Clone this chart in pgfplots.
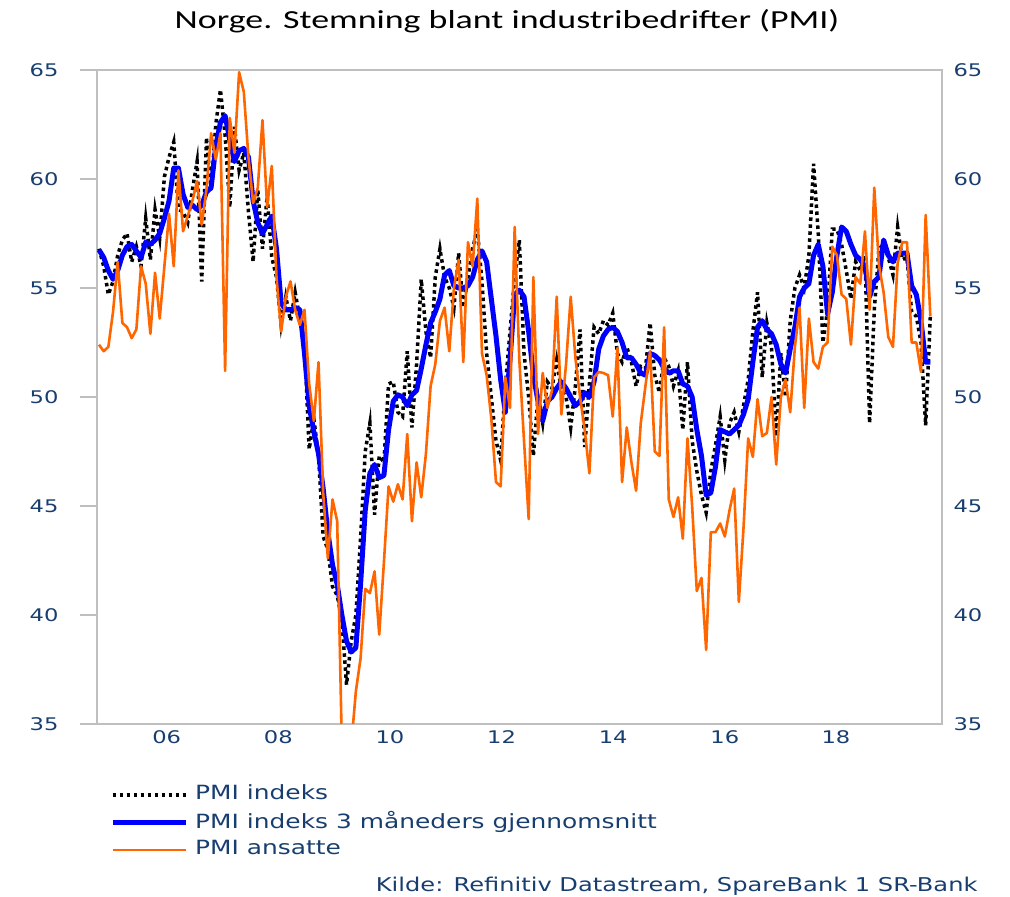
\documentclass[border=0pt]{standalone}
\usepackage{pgfplots}
\pgfplotsset{compat=1.18}
\usepackage{pgfplotstable}
\usepackage{fontspec}
\setmainfont{DejaVu Sans}
\newfontfamily\titlefont[FakeStretch=1.38]{Carlito}
\newfontfamily\lbl[FakeStretch=1.3]{DejaVu Sans}
\newfontfamily\lgd[FakeStretch=1.27]{DejaVu Sans}

\definecolor{navy}{RGB}{24,62,112}
\definecolor{pmiblue}{RGB}{0,0,255}
\definecolor{pmiorange}{RGB}{255,102,0}
\definecolor{framegray}{RGB}{191,191,191}

% monthly, Oct 2004 - Aug 2019: PMI index, 3-month average, employment
\pgfplotstableread{
pmi avg ans
56.8 56.75 52.4
56.0 56.4 52.1
54.7 55.8 52.3
55.3 55.4 53.9
56.5 55.8 56.2
57.2 56.5 53.4
57.5 56.9 53.2
56.2 57.0 52.7
56.9 56.7 53.1
56.0 56.4 56.0
58.2 57.1 55.2
56.3 57.0 52.9
58.6 57.2 55.7
57.3 57.5 53.6
60.1 58.2 56.0
61.0 59.0 58.4
61.7 60.5 56.0
58.6 60.5 60.4
58.5 59.3 57.6
58.0 58.7 58.3
59.5 58.8 59.0
60.8 58.6 59.9
55.3 58.8 57.9
61.9 59.4 59.5
59.5 59.6 62.1
62.5 61.5 60.9
64.1 62.6 62.1
62.0 62.9 51.2
58.7 61.8 62.8
62.4 60.8 61.2
60.4 61.3 64.9
61.2 61.4 64.0
58.5 61.0 61.0
56.2 59.0 58.9
59.5 58.0 59.6
56.8 57.5 62.7
59.2 57.9 58.7
56.4 58.3 60.6
55.5 56.8 55.5
53.3 54.3 53.0
54.6 54.0 54.6
53.5 54.0 55.3
54.8 54.1 54.0
53.6 54.0 53.3
52.5 52.0 54.0
47.6 49.6 50.6
49.0 48.4 48.9
47.3 47.4 51.6
43.6 45.8 45.6
43.0 43.8 42.6
41.3 42.3 45.3
40.9 41.4 44.3
39.8 40.0 34.0
36.8 38.8 33.5
38.8 38.3 34.0
40.0 38.5 36.5
43.5 41.4 38.0
47.5 44.8 41.2
48.8 46.5 41.0
44.6 46.9 42.0
47.3 46.3 39.1
47.0 46.4 42.4
50.6 48.5 45.9
50.7 49.8 45.2
49.3 50.1 46.0
49.1 50.0 45.3
52.1 49.6 48.3
48.6 50.1 44.3
51.5 50.3 47.0
55.4 51.3 45.4
53.0 52.4 47.4
51.8 53.4 50.5
55.5 53.9 51.5
56.8 54.5 53.5
55.5 55.6 54.1
55.0 55.8 52.1
54.1 55.1 55.0
56.6 55.0 56.3
54.1 55.0 51.6
55.5 55.1 57.1
56.8 55.5 56.0
57.7 56.3 59.1
55.3 56.7 52.0
52.0 56.2 51.0
50.0 54.5 49.0
48.0 52.8 46.1
47.1 50.8 45.9
50.5 49.3 50.9
53.0 51.7 49.5
55.5 54.7 57.8
57.2 54.9 51.7
52.0 54.6 48.0
50.0 53.0 44.4
47.3 51.0 55.5
50.0 49.8 48.3
48.8 48.9 51.1
50.7 49.8 49.5
50.4 50.0 50.3
51.7 50.4 54.6
50.3 50.7 49.2
50.0 50.4 51.5
48.6 50.0 54.6
50.5 49.6 51.8
53.1 49.8 50.0
47.7 50.2 48.5
50.6 50.0 46.5
53.2 50.7 50.9
52.9 52.2 51.15
53.5 52.8 51.1
53.3 53.1 51.0
53.85 53.2 49.1
52.0 53.0 52.25
51.6 52.5 46.1
52.3 51.8 48.6
51.6 51.8 47.0
50.5 51.5 45.7
51.4 51.1 48.8
51.3 51.0 50.5
53.4 52.0 52.1
51.0 51.9 47.5
50.2 51.7 47.3
51.8 51.3 53.2
51.4 51.1 45.3
50.5 51.2 44.5
51.2 51.2 45.4
48.5 50.6 43.5
51.6 50.5 48.1
48.0 50.0 45.0
46.6 48.5 41.1
45.5 47.3 41.7
44.7 45.5 38.4
46.6 45.6 43.8
47.8 46.8 43.8
49.1 48.5 44.2
47.1 48.4 43.6
48.8 48.3 44.8
49.3 48.5 45.8
48.4 48.7 40.6
49.6 49.2 44.0
50.8 49.9 48.1
53.0 51.6 47.25
54.8 53.2 49.9
50.9 53.5 48.2
53.4 53.1 48.35
52.3 52.9 50.0
48.2 52.4 46.9
52.0 51.5 50.0
50.0 51.1 50.8
53.5 52.2 49.3
55.0 53.2 52.3
55.6 54.6 54.1
55.0 55.0 49.5
56.5 55.2 53.6
60.7 56.5 51.6
57.5 57.0 51.3
52.5 56.0 52.3
54.0 53.8 52.5
57.7 54.8 56.9
57.7 56.5 56.5
57.0 57.8 54.7
55.8 57.6 54.5
54.5 57.0 52.4
56.2 56.5 55.5
55.8 56.3 55.2
56.5 56.0 57.6
48.8 54.6 54.0
54.0 55.3 59.6
56.8 55.5 56.05
57.0 57.2 54.8
56.4 56.5 52.75
55.6 56.2 52.3
57.8 56.6 56.15
56.3 56.6 57.1
56.4 56.6 57.1
53.9 55.1 52.5
53.7 54.7 52.5
52.5 53.5 51.15
48.7 51.6 58.35
53.7 51.6 53.7
}\pmidata

\begin{document}
\begin{tikzpicture}
\useasboundingbox (0,0) rectangle (1010pt,897pt);
\begin{axis}[
  at={(97pt,173pt)}, anchor=south west, scale only axis,
  width=845pt, height=654pt,
  xmin=-0.43, xmax=180.5, ymin=35, ymax=65,
  xtick={14.5,38.4,62.3,86.2,110.1,134.0,157.8},
  xticklabels={06,08,10,12,14,16,18},
  ytick={35,40,...,65},
  axis line style={draw=framegray, line width=2pt},
  tick align=outside, tick pos=left, major tick length=17pt,
  xtick style={draw=none},
  ytick style={draw=framegray, line width=2pt},
  /pgf/number format/assume math mode=true,
  tick label style={font=\lbl\fontsize{17.4}{20}\selectfont, text=navy},
  yticklabel style={xshift=-18pt},
  xticklabel style={yshift=14pt},
  legend style={draw=none, fill=none, at={(0.0154,-0.093)}, anchor=north west,
    font=\lgd\fontsize{19.6}{22}\selectfont, text=navy, row sep=10pt,
    inner sep=0pt, nodes={inner sep=0pt},
    /tikz/every odd column/.append style={column sep=7pt}},
  legend cell align=left,
  legend image code/.code={\draw[#1] (0pt,-2pt) -- (73pt,-2pt);},
]
\addplot[black, line width=3.5pt, dash pattern=on 3.5pt off 3.5pt]
  table[x expr=\coordindex, y=pmi] {\pmidata};
\addlegendentry{PMI indeks}
\addplot[pmiblue, line width=5pt, line join=round]
  table[x expr=\coordindex, y=avg] {\pmidata};
\addlegendentry{PMI indeks 3 måneders gjennomsnitt}
\addplot[pmiorange, line width=2.6pt, line join=round]
  table[x expr=\coordindex, y=ans] {\pmidata};
\addlegendentry{PMI ansatte}
\end{axis}
\begin{axis}[
  at={(97pt,173pt)}, anchor=south west, scale only axis,
  width=845pt, height=654pt,
  xmin=-0.43, xmax=180.5, ymin=35, ymax=65,
  hide x axis, axis line style={draw=none},
  ytick={35,40,...,65}, ytick pos=right, ytick style={draw=none},
  /pgf/number format/assume math mode=true,
  yticklabel style={font=\lbl\fontsize{17.4}{20}\selectfont, text=navy, xshift=8pt},
]
\addplot[draw=none] coordinates {(0,50)};
\end{axis}
\node[anchor=base, font=\titlefont\fontsize{26}{30}\selectfont] at (507pt,868.7pt)
  {Norge. Stemning blant industribedrifter (PMI)};
\node[anchor=base east, font=\lgd\fontsize{19}{22}\selectfont, text=navy] at (981pt,5pt)
  {Kilde: Refinitiv Datastream, SpareBank 1 SR-Bank};
\end{tikzpicture}
\end{document}
